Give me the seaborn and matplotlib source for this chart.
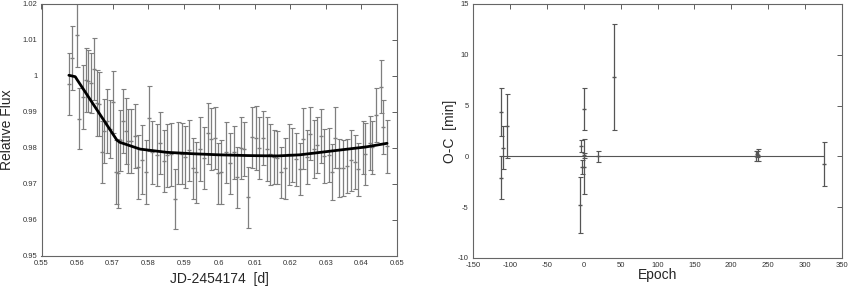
import matplotlib
matplotlib.use("Agg")
import matplotlib.pyplot as plt
import seaborn as sns
import pandas as pd
from matplotlib.ticker import FuncFormatter, MultipleLocator

# light curve points (time, relative flux, error)
jd = [0.5577, 0.5587, 0.5599, 0.5605, 0.5617, 0.5625, 0.5631, 0.5639, 0.5648, 0.5655, 0.5662,
      0.5669, 0.5676, 0.5685, 0.5692, 0.5702, 0.5709, 0.5716, 0.5722, 0.5730, 0.5737, 0.5744,
      0.5753, 0.5763, 0.5772, 0.5783, 0.5793, 0.5803, 0.5812, 0.5824, 0.5833, 0.5844, 0.5852,
      0.5864, 0.5875, 0.5884, 0.5894, 0.5903, 0.5915, 0.5926, 0.5936, 0.5947, 0.5956, 0.5967,
      0.5978, 0.5987, 0.5997, 0.6006, 0.6018, 0.6029, 0.6041, 0.6050, 0.6060, 0.6070, 0.6081,
      0.6092, 0.6102, 0.6112, 0.6123, 0.6133, 0.6144, 0.6154, 0.6163, 0.6175,
      0.6184, 0.6195, 0.6204, 0.6215, 0.6226, 0.6235, 0.6247, 0.6256, 0.6266, 0.6276, 0.6287,
      0.6296, 0.6308, 0.6318, 0.6327, 0.6338,
      0.6347, 0.6358, 0.6372, 0.6381, 0.6389, 0.6403, 0.6411, 0.6423, 0.6431, 0.6442, 0.6454,
      0.6462, 0.6473]
flux = [0.9978, 1.0049, 1.0114, 0.9881, 0.9942, 0.9988, 0.9985, 0.9980, 1.0019, 0.9925, 0.9922,
        0.9790, 0.9846, 0.9874, 0.9853, 0.9928, 0.9733, 0.9730, 0.9821, 0.9875, 0.9847, 0.9819,
        0.9819, 0.9834, 0.9747, 0.9768, 0.9733, 0.9882, 0.9788, 0.9781, 0.9814, 0.9765, 0.9780,
        0.9782, 0.9659, 0.9786, 0.9784, 0.9776, 0.9794, 0.9744, 0.9733, 0.9797, 0.9772, 0.9841,
        0.9826, 0.9828, 0.9730, 0.9733, 0.9788, 0.9758, 0.9788, 0.9719, 0.9800, 0.9798, 0.9663,
        0.9830, 0.9829, 0.9801, 0.9828, 0.9797, 0.9783, 0.9776, 0.9773, 0.9733,
        0.9744, 0.9783, 0.9781, 0.9769, 0.9742, 0.9826, 0.9775, 0.9840, 0.9798, 0.9808, 0.9832,
        0.9779, 0.9781, 0.9734, 0.9829, 0.9745,
        0.9744, 0.9751, 0.9766, 0.9761, 0.9741, 0.9802, 0.9784, 0.9814, 0.9802, 0.9892, 0.9970,
        0.9858, 0.9805]
flux_err = [0.0087, 0.0089, 0.0088, 0.0085, 0.0088, 0.0089, 0.0086, 0.0084, 0.0086, 0.0091, 0.0088,
            0.0086, 0.0089, 0.0089, 0.0080, 0.0085, 0.0088, 0.0096, 0.0084, 0.0088, 0.0091, 0.0088,
            0.0088, 0.0089, 0.0088, 0.0095, 0.0088, 0.0089, 0.0088, 0.0086, 0.0085, 0.0086, 0.0088,
            0.0088, 0.0084, 0.0085, 0.0085, 0.0086, 0.0085, 0.0085, 0.0085, 0.0088, 0.0085, 0.0085,
            0.0086, 0.0086, 0.0085, 0.0088, 0.0085, 0.0085, 0.0074, 0.0085, 0.0085, 0.0075, 0.0085,
            0.0085, 0.0089, 0.0086, 0.0074, 0.0088, 0.0085, 0.0075, 0.0073, 0.0071,
            0.0085, 0.0085, 0.0075, 0.0074, 0.0073, 0.0084, 0.0074, 0.0073, 0.0081, 0.0077, 0.0075,
            0.0075, 0.0075, 0.0078, 0.0084, 0.0081,
            0.0077, 0.0075, 0.0085, 0.0074, 0.0074, 0.0074, 0.0086, 0.0074, 0.0074, 0.0074, 0.0074,
            0.0074, 0.0074]

# transit model curve
model_jd = [0.5577, 0.5595, 0.5600, 0.5650, 0.5700, 0.5712, 0.5720, 0.5777, 0.5852, 0.5927,
            0.6000, 0.6080, 0.6164, 0.6226, 0.6319, 0.6413, 0.6472]
model_flux = [1.0002, 0.9998, 0.9990, 0.9915, 0.9840, 0.9822, 0.9816, 0.9797, 0.9788, 0.9784,
              0.9781, 0.9779, 0.9778, 0.9781, 0.9792, 0.9803, 0.9813]

# O-C diagram
epoch = [-112, -112, -109, -104, -5, -4, -2, 0, 1, 1, 20, 41, 233, 235, 236, 326]
oc = [4.38, -2.09, 0.85, 2.97, -4.80, 1.0, -1.05, 0.1, -1.0, 4.65, 0.0, 7.81, 0.0, 0.2, 0.1, -0.72]
oc_err = [2.35, 2.1, 2.1, 3.15, 2.73, 0.6, 0.7, 0.25, 2.7, 2.1, 0.55, 5.2, 0.5, 0.3, 0.6, 2.15]
fit_epoch = [-112, 326]
fit_oc = [0, 0]

sns.set_style("white")
plt.rcParams['font.family'] = ['Liberation Sans', 'DejaVu Sans']

fig = plt.figure(figsize=(8.5, 2.9), dpi=100)
ax1 = fig.add_axes([41.5 / 850, 1 - 256 / 290, 355.5 / 850, 252 / 290])
ax2 = fig.add_axes([473 / 850, 1 - 258 / 290, 369 / 850, 254 / 290])

gray = "#7f7f7f"
ax1.errorbar(jd, flux, yerr=flux_err, fmt="_", color=gray, ecolor=gray, ms=3,
             elinewidth=0.9, capsize=1.8, capthick=0.8, zorder=2)
model = pd.DataFrame({"jd": model_jd, "flux": model_flux})
sns.lineplot(data=model, x="jd", y="flux", ax=ax1, color="black", linewidth=2, zorder=3)
ax1.set_xlim(0.55, 0.65)
ax1.set_ylim(0.95, 1.02)
ax1.xaxis.set_major_locator(MultipleLocator(0.01))
ax1.yaxis.set_major_locator(MultipleLocator(0.01))
ax1.set_xlabel("JD-2454174  [d]", fontsize=10)
ax1.set_ylabel("Relative Flux", fontsize=10)
ax1.xaxis.set_label_coords(0.5, -0.065)
ax1.yaxis.set_label_coords(-0.077, 0.5)

ax2.errorbar(epoch, oc, yerr=oc_err, fmt="_", color="#555555", ecolor="#555555", ms=3,
             elinewidth=0.9, capsize=1.8, capthick=0.8, zorder=2)
fit = pd.DataFrame({"epoch": fit_epoch, "oc": fit_oc})
sns.lineplot(data=fit, x="epoch", y="oc", ax=ax2, color="#555555", linewidth=0.8, zorder=1)
ax2.set_xlim(-150, 350)
ax2.set_ylim(-10, 15)
ax2.xaxis.set_major_locator(MultipleLocator(50))
ax2.yaxis.set_major_locator(MultipleLocator(5))
ax2.set_xlabel("Epoch", fontsize=10)
ax2.set_ylabel("O-C  [min]", fontsize=10)
ax2.xaxis.set_label_coords(0.5, -0.04)
ax2.yaxis.set_label_coords(-0.043, 0.5)

fmt = FuncFormatter(lambda v, p: "%g" % round(v, 6))
for ax in (ax1, ax2):
    ax.xaxis.set_major_formatter(fmt)
    ax.yaxis.set_major_formatter(fmt)
    ax.tick_params(direction="in", length=3.5, width=0.6, labelsize=5.5, pad=3,
                   top=True, right=True, colors="#444444", labelcolor="#333333")
    for s in ax.spines.values():
        s.set_color("#666666")
        s.set_linewidth(0.8)

fig.savefig("out.png", dpi=100)
